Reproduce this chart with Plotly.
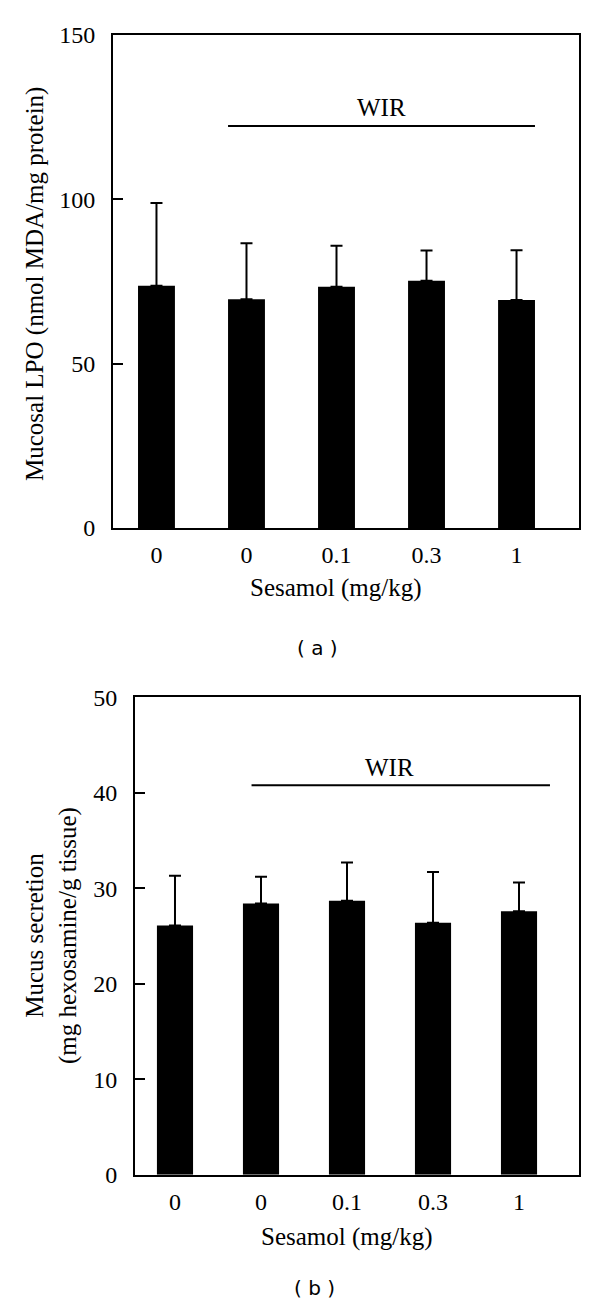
import plotly.graph_objects as go

# ── Data ─────────────────────────────────────────────────────────────────────
doses = ["0", "0", "0.1", "0.3", "1"]

lpo_mean = [73.7, 69.6, 73.4, 75.2, 69.4]
lpo_sd = [25.2, 17.0, 12.5, 9.2, 15.1]

mucus_mean = [26.1, 28.4, 28.7, 26.4, 27.6]
mucus_sd = [5.2, 2.8, 4.0, 5.3, 3.0]

lpo_ticks = [0, 50, 100, 150]
mucus_ticks = [0, 10, 20, 30, 40, 50]

# WIR bracket (level on each y scale)
wir_lpo = 122.3
wir_mucus = 40.8

# ── Layout helpers ───────────────────────────────────────────────────────────
# the page body adds an 8px margin, so the figure is offset by that much
OFF = 8
W, H = 600 - OFF, 1303 - OFF
SERIF = "Liberation Serif, Times New Roman, serif"


def px_x(x):
    return (x - OFF) / W


def px_y(y):
    return 1 - (y - OFF) / H


fig = go.Figure()
xs = list(range(len(doses)))

fig.add_trace(go.Bar(
    x=xs, y=lpo_mean, width=0.41, marker=dict(color="black", line=dict(width=0)),
    error_y=dict(type="data", symmetric=False, array=lpo_sd,
                 arrayminus=[0] * len(lpo_sd), color="black", thickness=2, width=6),
    xaxis="x", yaxis="y", showlegend=False,
))
fig.add_trace(go.Bar(
    x=xs, y=mucus_mean, width=0.42, marker=dict(color="black", line=dict(width=0)),
    error_y=dict(type="data", symmetric=False, array=mucus_sd,
                 arrayminus=[0] * len(mucus_sd), color="black", thickness=2, width=6),
    xaxis="x2", yaxis="y2", showlegend=False,
))

axis_common = dict(showline=True, linecolor="black", linewidth=2, mirror=True,
                   showgrid=False, zeroline=False, automargin=False,
                   tickfont=dict(family=SERIF, size=24, color="black"))

fig.update_layout(
    template="none",
    width=W, height=H,
    margin=dict(l=0, r=0, t=0, b=0, pad=0),
    paper_bgcolor="white", plot_bgcolor="white",
    xaxis=dict(domain=[px_x(113), px_x(579)], anchor="y",
               range=[-0.483, 4.694], tickvals=xs, ticktext=doses,
               ticks="", ticklabelstandoff=4, **axis_common),
    yaxis=dict(domain=[px_y(528), px_y(35)], anchor="x",
               range=[0, 150], tickvals=lpo_ticks,
               ticks="inside", ticklen=10, tickwidth=2, tickcolor="black",
               ticklabelstandoff=11, **axis_common),
    xaxis2=dict(domain=[px_x(135), px_x(579.3)], anchor="y2",
                range=[-0.465, 4.701], tickvals=xs, ticktext=doses,
                ticks="", ticklabelstandoff=4, **axis_common),
    yaxis2=dict(domain=[px_y(1174.7), px_y(697.3)], anchor="x2",
                range=[0, 50], tickvals=mucus_ticks,
                ticks="inside", ticklen=10, tickwidth=2, tickcolor="black",
                ticklabelstandoff=11, **axis_common),
)

# WIR brackets
fig.add_shape(type="line", xref="x", yref="y", x0=0.795, x1=4.205,
              y0=wir_lpo, y1=wir_lpo, line=dict(color="black", width=2))
fig.add_shape(type="line", xref="x2", yref="y2", x0=0.89, x1=4.36,
              y0=wir_mucus, y1=wir_mucus, line=dict(color="black", width=2))

serif25 = dict(family=SERIF, size=25, color="black")
sans = dict(family="DejaVu Sans", size=20, color="black")
ann = [
    dict(text="WIR", xref="x", yref="y", x=2.5, y=wir_lpo + 5.5, font=serif25),
    dict(text="WIR", xref="x2", yref="y2", x=2.49, y=wir_mucus + 1.8, font=serif25),
    dict(text="Mucosal LPO (nmol MDA/mg protein)", xref="paper", yref="paper",
         x=px_x(35), y=px_y(284), textangle=-90, font=serif25),
    dict(text="Mucus secretion<br>(mg hexosamine/g tissue)", xref="paper", yref="paper",
         x=px_x(52), y=px_y(936), textangle=-90, font=serif25),
    dict(text="Sesamol (mg/kg)", xref="paper", yref="paper",
         x=px_x(336), y=px_y(588), font=serif25),
    dict(text="Sesamol (mg/kg)", xref="paper", yref="paper",
         x=px_x(347), y=px_y(1237), font=serif25),
    dict(text="( a )", xref="paper", yref="paper", x=px_x(317), y=px_y(648), font=sans),
    dict(text="( b )", xref="paper", yref="paper", x=px_x(314), y=px_y(1288), font=sans),
]
for a in ann:
    a.setdefault("showarrow", False)
    a.setdefault("xanchor", "center")
    a.setdefault("yanchor", "middle")
    fig.add_annotation(**a)

fig.write_html("out.html")
